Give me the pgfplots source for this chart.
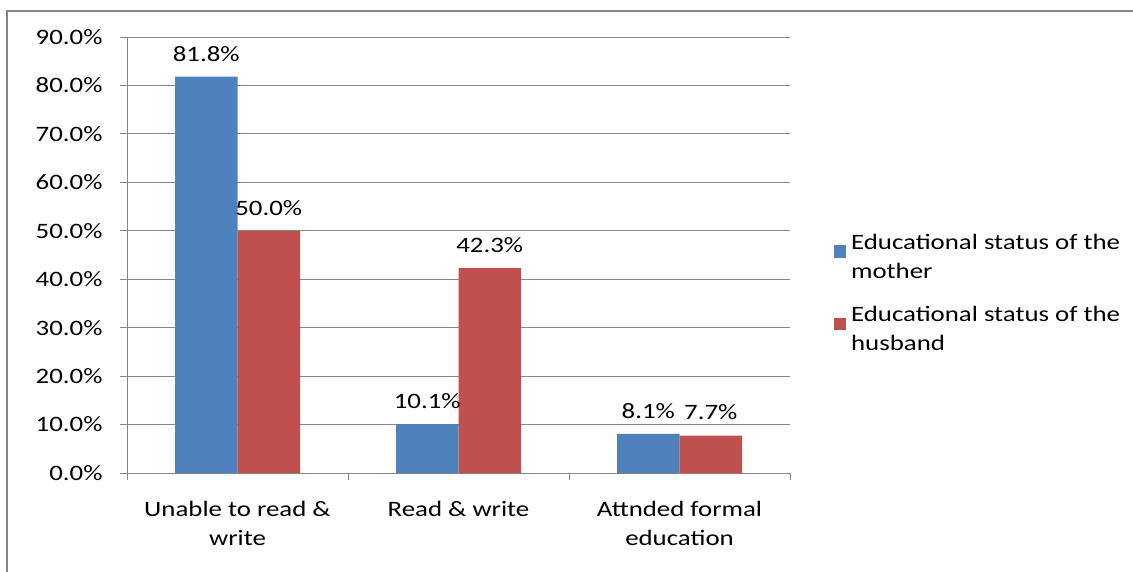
\documentclass[border=0pt]{standalone}
\usepackage{pgfplots}
\pgfplotsset{compat=1.18}
\usepackage{fontspec}
\setmainfont{Carlito}[FakeStretch=1.22]
\definecolor{cblue}{HTML}{4F81BD}
\definecolor{cred}{HTML}{C0504D}
\definecolor{cgrid}{HTML}{868686}
\begin{document}
\fontsize{22}{29}\selectfont
\begin{tikzpicture}
\draw[color=cgrid, line width=2.5pt] (7pt,-700pt) -- (7pt,-11pt) -- (1300pt,-11pt);
\begin{axis}[
  at={(127pt,-473pt)}, anchor=south west,
  scale only axis, width=663pt, height=436pt,
  xmin=-0.5, xmax=2.5, ymin=0, ymax=90,
  ybar=0pt, bar width=62.5pt,
  axis x line*=bottom, axis y line*=left,
  axis line style={draw=cgrid, line width=0.8pt, -},
  ytick={0,10,...,90},
  ymajorgrids, grid style={draw=cgrid, line width=0.8pt},
  yticklabel={\pgfmathprintnumber[fixed,fixed zerofill,precision=1]{\tick}\%},
  /pgf/number format/assume math mode=true,
  tick align=outside, major tick length=7pt,
  tick style={draw=cgrid, line width=0.8pt},
  yticklabel style={xshift=-10pt},
  xtick={0,1,2},
  xtick style={draw=none},
  xticklabels={{Unable to read \&\\write},{Read \& write},{Attnded formal\\education}},
  xticklabel style={align=center, yshift=-14pt},
  extra x ticks={-0.5,0.5,1.5,2.5},
  extra x tick labels={},
  extra x tick style={xtick style={draw=cgrid, line width=0.8pt}, major tick length=7pt},
  nodes near coords={\pgfmathprintnumber[fixed,fixed zerofill,precision=1]{\pgfplotspointmeta}\%},
  nodes near coords style={yshift=8pt},
  legend style={at={(1.061,0.411)}, anchor=west, draw=none, fill=none,
    nodes={align=left, inner sep=0pt}, row sep=25pt, column sep=5pt},
  legend cell align=left,
  legend image code/.code={\path[#1] (0pt,0pt) rectangle (12.5pt,12.5pt);},
]
\addplot[fill=cblue, draw=none] coordinates {(0,81.8) (1,10.1) (2,8.1)};
\addplot[fill=cred, draw=none] coordinates {(0,50.0) (1,42.3) (2,7.7)};
\legend{{Educational status of the\\mother},{Educational status of the\\husband}}
\end{axis}
\pgfresetboundingbox
\useasboundingbox (0pt,0pt) rectangle (1133pt,-572pt);
\end{tikzpicture}
\end{document}
